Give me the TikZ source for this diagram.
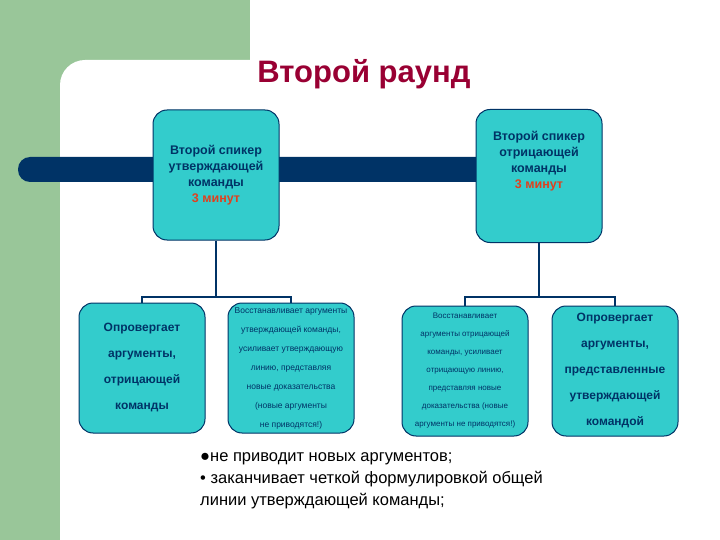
\documentclass[tikz,border=0pt]{standalone}
\usepackage{fontspec}
\setmainfont{Liberation Sans}
\begin{document}
\begin{tikzpicture}[x=1pt,y=-1pt,
 box/.style={draw=navy,line width=1pt,fill=teal1,rounded corners=14pt,minimum width=126pt,minimum height=130pt,inner sep=2pt,align=center,text=navy},
 big/.style={font=\bfseries\fontsize{13}{16}\selectfont},
 bigsp/.style={font=\bfseries\fontsize{13}{26}\selectfont},
 small/.style={font=\fontsize{8.5}{19}\selectfont},
 conn/.style={draw=navy,line width=1.3pt}]
\definecolor{navy}{HTML}{003366}
\definecolor{teal1}{HTML}{33CCCC}
\definecolor{grn}{HTML}{99C699}
\definecolor{ttl}{HTML}{990033}
\definecolor{org}{HTML}{E0401E}
\useasboundingbox (0,0) rectangle (720,540);
\fill[grn] (0,0) rectangle (250,100);
\fill[grn] (0,0) rectangle (60,540);
\fill[white,rounded corners=25pt] (60,60) rectangle (780,600);
\fill[white] (250,0) rectangle (720,540);
\fill[navy,rounded corners=12pt] (18,157) rectangle (490,182);
\node[font=\bfseries\fontsize{31}{33}\selectfont,text=ttl] (title) at (364,74) {Второй раунд};
\node[box,big,font=\bfseries\fontsize{12.5}{16}\selectfont] (t1) at (216,175) {Второй спикер\\утверждающей\\команды\\{\color{org}3 минут}};
\node[box,big,font=\bfseries\fontsize{12.5}{16}\selectfont,minimum height=133pt,text depth=32pt] (t2) at (539,176) {Второй спикер\\отрицающей\\команды\\{\color{org}3 минут}};
\node[box,bigsp,font=\bfseries\fontsize{12}{26}\selectfont] (b1) at (142,368) {Опровергает\\аргументы,\\отрицающей\\команды};
\node[box,small] (b2) at (291,368) {Восстанавливает аргументы\\утверждающей команды,\\усиливает утверждающую\\линию, представляя\\новые доказательства\\(новые аргументы\\не приводятся!)};
\node[box,small,font=\fontsize{8}{18}\selectfont] (b3) at (465,371) {Восстанавливает\\аргументы отрицающей\\команды, усиливает\\отрицающую линию,\\представляя новые\\доказательства (новые\\аргументы не приводятся!)};
\node[box,bigsp,font=\bfseries\fontsize{12}{26}\selectfont] (b4) at (615,371) {Опровергает\\аргументы,\\представленные\\утверждающей\\командой};
\coordinate (j1) at (t1.south |- 0,297);
\coordinate (j2) at (t2.south |- 0,297);
\draw[conn] (t1.south) -- (j1);
\draw[conn] (b1.north) -- (b1.north |- j1) -- (b2.north |- j1) -- (b2.north);
\draw[conn] (t2.south) -- (j2);
\draw[conn] (b3.north) -- (b3.north |- j2) -- (b4.north |- j2) -- (b4.north);
\node[anchor=north west,align=left,font=\fontsize{16.5}{22}\selectfont,text=black,inner sep=0pt] (notes) at (200,452) {●не приводит новых аргументов;\\• заканчивает четкой формулировкой общей\\линии утверждающей команды;};
\end{tikzpicture}
\end{document}
